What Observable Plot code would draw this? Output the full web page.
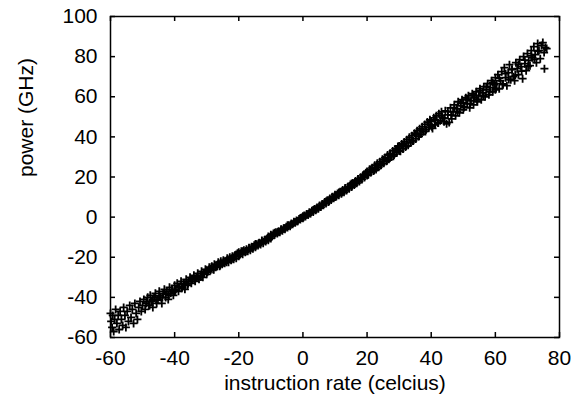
<!DOCTYPE html>
<html>
<head>
<meta charset="utf-8">
<script src="https://cdn.jsdelivr.net/npm/d3@7"></script>
<script src="https://cdn.jsdelivr.net/npm/@observablehq/plot@0.6"></script>
<style>
  html, body { margin: 0; padding: 0; background: #fff; }
</style>
</head>
<body>
<div id="chart"></div>
<script>
const xLabel = "instruction rate (celcius)";
const yLabel = "power (GHz)";
const xTicks = [-60, -40, -20, 0, 20, 40, 60, 80];
const yTicks = [-60, -40, -20, 0, 20, 40, 60, 80, 100];

const rate = [
  -60,-59.8,-59.5,-59.3,-59,-58.7,-58.4,-58,-57.6,-57.3,-57,-56.6,-56.2,-55.9,-55.5,-55.2,-54.8,-54.4,-54,-53.6,-53.2,-52.8,-52.4,-52,-51.6,-51.2,-50.8,-50.4,-50,
  -49.6,-49.2,-48.8,-48.4,-48,-47.6,-47.2,-46.8,-46.4,-46,-45.6,-45.2,-44.8,-44.4,-44,-43.6,-43.2,-42.8,-42.4,-42,-41.6,-41.2,-40.8,-40.4,-40,-40,
  -39.6,-39.2,-38.8,-38.4,-38,-37.6,-37.2,-36.8,-36.4,-36,-35.6,-35.2,-34.8,-34.4,-34,-33.6,-33.2,-32.8,-32.4,-32,-31.6,-31.2,-30.8,-30.4,-30,-30,
  -29.6,-29.2,-28.8,-28.4,-28,-27.6,-27.2,-26.8,-26.4,-26,-25.6,-25.2,-24.8,-24.4,-24,-23.6,-23.2,-22.8,-22.4,-22,-21.6,-21.2,-20.8,-20.4,-20,-20,
  -19.6,-19.2,-18.8,-18.4,-18,-17.6,-17.2,-16.8,-16.4,-16,-15.6,-15.2,-14.8,-14.4,-14,-13.6,-13.2,-12.8,-12.4,-12,-11.6,-11.2,-10.8,-10.4,-10,-10,
  -9.6,-9.2,-8.8,-8.4,-8,-7.6,-7.2,-6.8,-6.4,-6,-5.6,-5.2,-4.8,-4.4,-4,-3.6,-3.2,-2.8,-2.4,-2,-1.6,-1.2,-0.8,-0.4,0,0,
  0.4,0.8,1.2,1.6,2,2.4,2.8,3.2,3.6,4,4.4,4.8,5.2,5.6,6,6.4,6.8,7.2,7.6,8,8.4,8.8,9.2,9.6,10,10,
  10.4,10.8,11.2,11.6,12,12.4,12.8,13.2,13.6,14,14.4,14.8,15.2,15.6,16,16.4,16.8,17.2,17.6,18,18.4,18.8,19.2,19.6,20,20,
  20.4,20.8,21.2,21.6,22,22.4,22.8,23.2,23.6,24,24.4,24.8,25.2,25.6,26,26.4,26.8,27.2,27.6,28,28.4,28.8,29.2,29.6,30,30,
  30.4,30.8,31.2,31.6,32,32.4,32.8,33.2,33.6,34,34.4,34.8,35.2,35.6,36,36.4,36.8,37.2,37.6,38,38.4,38.8,39.2,39.6,40,40,
  40.4,40.8,41.2,41.6,42,42.4,42.8,43.2,43.6,44,44.4,44.8,45.2,45.6,46,46.4,46.8,47.2,47.6,48,48.4,48.8,49.2,49.6,50,50,
  50.4,50.8,51.2,51.6,52,52.4,52.8,53.2,53.6,54,54.4,54.8,55.2,55.6,56,56.4,56.8,57.2,57.6,58,58.4,58.8,59.2,59.6,60,60,
  60.4,60.8,61.2,61.6,62,62.4,62.8,63.2,63.6,64,64.4,64.8,65.2,65.6,66,66.4,66.8,67.2,67.6,68,68.5,68.8,69.2,69.6,70,70.4,70.8,71.2,71.6,72,72.4,72.8,73.2,73.6,74,74.4,74.8,75.2,75.3,75.6,76
];

const power = [
  -48,-52,-55,-49,-57,-51,-46,-53,-49,-56,-47,-51,-54,-45,-49,-55,-47,-52,-44,-50,-46,-53,-43,-48,-51,-45,-42,-47,-44,
  -41,-46,-43,-40,-44,-39,-42,-45,-40,-38,-43,-41,-37,-40,-43,-38,-36,-40,-37,-41,-35,-38,-36,-39,-34,-37,
  -36,-33,-37,-35,-32,-35,-33,-36,-31,-34,-32,-30,-33,-31,-29,-32,-30,-28,-31,-29,-27,-30,-28,-26,-28.5,-26.5,
  -27,-25,-26.5,-24.5,-26,-23.5,-25,-24,-22.5,-24.5,-22,-23.5,-21.5,-23,-22,-20.5,-22.5,-20,-21.5,-19.5,-21,-19,-20.5,-18,-19.5,-17.5,
  -18.5,-17,-18.5,-16.5,-17.5,-16,-17,-15.5,-16.5,-14.8,-15.8,-14,-15,-13.5,-14.2,-12.8,-13.6,-12,-13,-11.5,-12.2,-10.8,-11.5,-10,-10.6,-8.8,
  -9.5,-8.2,-8.8,-7.6,-8.2,-7,-7.5,-6.3,-6.8,-5.5,-6,-4.8,-5.2,-4,-4.5,-3.2,-3.6,-2.5,-2.8,-1.7,-2,-0.9,-1.2,-0.2,-0.5,0.4,
  0.8,0.3,1.6,1,2.4,1.8,3.2,2.6,4,3.4,4.8,4.2,5.8,5,6.6,5.9,7.5,6.8,8.4,7.6,9.3,8.5,10.2,9.4,11.2,10,
  10.3,11.8,10.9,12.6,11.6,13.5,12.4,14.3,13.3,15.2,14.1,16.2,15,17,16,18,16.9,19,17.8,19.9,18.8,21,19.8,22,20.8,22.8,
  21.2,23.8,22.2,24.6,23,25.8,23.8,26.8,24.9,27.6,26,28.8,26.8,29.7,27.8,31,28.8,31.8,30,33,31,34,32,35.2,33,35.5,
  32.8,36.5,34,37.5,35,38.6,35.8,39.8,37,40.6,38,41.8,39,43,40.2,44,41.4,45,42.6,46.2,43.6,47.4,44.6,48.5,45.5,47.8,
  44.2,49.5,46,50.5,47,51.5,48,52.5,49.5,47.5,53,46.5,51,47.2,54.5,49,52.5,56,50.5,54,57.5,52,55.5,58.5,53.5,57,
  55,59.5,56.5,60.5,54.5,58,61.5,56,59.5,62.5,57.5,60.5,64,58.5,62,65,60,63.5,66.5,61,64.5,68,62.5,66,69.5,63.5,
  66.5,71,64,68,72.5,66,74.5,69.5,65.5,72,76,68.5,73.5,70,68,77,74,71,78.5,75,69,80,76.5,73,81.5,78,75.5,83,79.5,85,81,77,86.5,83,79,85.5,87,82,74,84.5,84
];

const rateB = [
  -48.8,-47.8,-46.8,-45.8,-44.8,-43.8,-42.8,-41.8,-40.8,-39.8,-38.8,-37.8,-36.8,-35.8,-34.8,-33.8,-32.8,-31.8,-30.8,-29.8,
  -28.8,-27.8,-26.8,-25.8,-24.8,-23.8,-22.8,-21.8,-20.8,-19.8,-18.8,-17.8,-16.8,-15.8,-14.8,-13.8,-12.8,-11.8,-10.8,-9.8,
  -8.8,-7.8,-6.8,-5.8,-4.8,-3.8,-2.8,-1.8,-0.8,0.2,1.2,2.2,3.2,4.2,5.2,6.2,7.2,8.2,9.2,10.2,
  11.2,12.2,13.2,14.2,15.2,16.2,17.2,18.2,19.2,20.2,21.2,22.2,23.2,24.2,25.2,26.2,27.2,28.2,29.2,30.2,
  31.2,32.2,33.2,34.2,35.2,36.2,37.2,38.2,39.2,40.2,41.2,42.2,43.2,44.2,45.2,46.2,47.2,48.2,49.2,50.2,
  51.2,52.2,53.2,54.2,55.2,56.2,57.2,58.2,59.2,60.2,61.2,62.2,63.2,64.2,65.2,66.2,67.2,68.2,69.2,70.2,71.2,72.2,73.2
];

const powerB = [
  -42.2,-44,-41.3,-41.4,-39.1,-40.1,-38.4,-38.9,-36.3,-36.7,-34.8,-35.4,-33.4,-33.2,-31.1,-31.2,-29.6,-29.9,-27.7,-27.5,
  -25.8,-26.2,-24.3,-24.1,-22.3,-22.5,-20.8,-20.6,-18.6,-18.6,-17,-17,-15.3,-15.1,-13.4,-13.2,-11.6,-11.3,-9.7,-9.3,
  -7.8,-7.5,-6,-5.6,-4.1,-3.8,-2.3,-2,-0.4,0,1.5,1.9,3.5,3.9,5.5,6,7.8,8.1,10,10.3,
  12.3,12.4,14.5,14.6,16.8,16.7,19,18.9,21.2,21,23.6,23.4,26,25.7,28.5,28.1,30.9,30.4,33.4,32.9,
  36.1,35.4,38.7,38,41.3,40.3,43.7,42.7,46.2,45,48.4,46.9,50.5,49.2,52.6,50.8,54.6,52.7,56.7,54.7,
  58.8,56.6,60.8,58.5,62.9,60.5,65,62.4,67,64.2,69.3,66.4,71.5,68.6,73.7,70.8,76.1,72.8,78.3,75.2,80.4,78.6,82.8
];

const points = rate.map((r, i) => ({rate: r, power: power[i]}))
  .concat(rateB.map((r, i) => ({rate: r, power: powerB[i]})));

const W = 574, H = 402;
const mL = 110, mR = 15, mT = 16, mB = 65;
const innerW = W - mL - mR, innerH = H - mT - mB;
const tickLen = 5;
const fmt = d => String(d);

const chart = Plot.plot({
  width: W,
  height: H,
  marginLeft: mL,
  marginRight: mR,
  marginTop: mT,
  marginBottom: mB,
  style: {fontFamily: "'Liberation Sans', Arial, sans-serif", fontSize: "21px", color: "#000", background: "#fff"},
  x: {domain: [-60, 80], ticks: xTicks},
  y: {domain: [-60, 100], ticks: yTicks},
  marks: [
    Plot.axisX(xTicks, {tickSize: 0, tickPadding: 13, fontSize: 21, label: null, tickFormat: fmt}),
    Plot.axisY(yTicks, {tickSize: 0, tickPadding: 13, fontSize: 21, label: null, tickFormat: fmt}),
    Plot.tickX(xTicks, {x: d => d, insetTop: innerH - tickLen, stroke: "#000", strokeWidth: 1.5}),
    Plot.tickX(xTicks, {x: d => d, insetBottom: innerH - tickLen, stroke: "#000", strokeWidth: 1.5}),
    Plot.tickY(yTicks, {y: d => d, insetRight: innerW - tickLen, stroke: "#000", strokeWidth: 1.5}),
    Plot.tickY(yTicks, {y: d => d, insetLeft: innerW - tickLen, stroke: "#000", strokeWidth: 1.5}),
    Plot.dot(points, {x: "rate", y: "power", symbol: "plus", r: 2.7, stroke: "#000", strokeWidth: 1.8}),
    Plot.frame({stroke: "#000", strokeWidth: 1.5}),
    Plot.text([xLabel], {text: d => d, frameAnchor: "bottom", dy: 52, fontSize: 21}),
    Plot.text([yLabel], {text: d => d, frameAnchor: "left", dx: -84, rotate: -90, fontSize: 21})
  ]
});

document.getElementById("chart").appendChild(chart);
</script>
</body>
</html>
